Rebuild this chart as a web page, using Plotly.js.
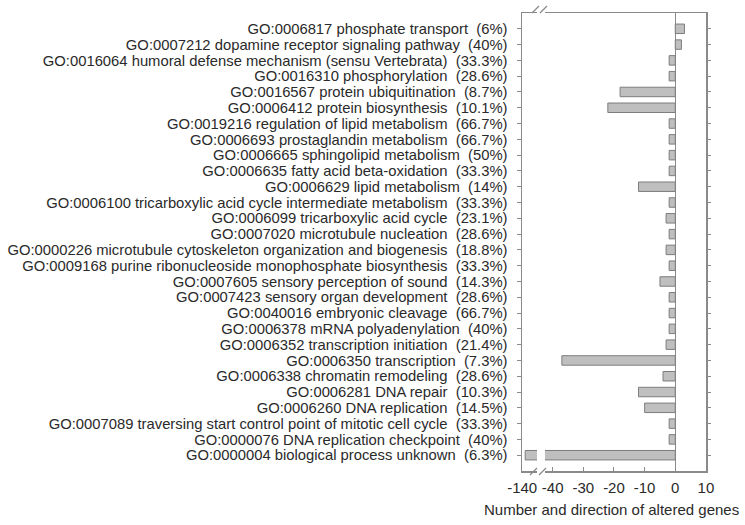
<!DOCTYPE html>
<html><head><meta charset="utf-8">
<script src="https://cdn.plot.ly/plotly-3.0.1.min.js"></script>
<style>html,body{margin:0;padding:0;background:#fff}</style>
</head><body>
<div id="chart" style="width:745px;height:525px"></div>
<script>
const labels = [
"GO:0006817 phosphate transport\u00a0 (6%)",
"GO:0007212 dopamine receptor signaling pathway\u00a0 (40%)",
"GO:0016064 humoral defense mechanism (sensu Vertebrata)\u00a0 (33.3%)",
"GO:0016310 phosphorylation\u00a0 (28.6%)",
"GO:0016567 protein ubiquitination\u00a0 (8.7%)",
"GO:0006412 protein biosynthesis\u00a0 (10.1%)",
"GO:0019216 regulation of lipid metabolism\u00a0 (66.7%)",
"GO:0006693 prostaglandin metabolism\u00a0 (66.7%)",
"GO:0006665 sphingolipid metabolism\u00a0 (50%)",
"GO:0006635 fatty acid beta-oxidation\u00a0 (33.3%)",
"GO:0006629 lipid metabolism\u00a0 (14%)",
"GO:0006100 tricarboxylic acid cycle intermediate metabolism\u00a0 (33.3%)",
"GO:0006099 tricarboxylic acid cycle\u00a0 (23.1%)",
"GO:0007020 microtubule nucleation\u00a0 (28.6%)",
"GO:0000226 microtubule cytoskeleton organization and biogenesis\u00a0 (18.8%)",
"GO:0009168 purine ribonucleoside monophosphate biosynthesis\u00a0 (33.3%)",
"GO:0007605 sensory perception of sound\u00a0 (14.3%)",
"GO:0007423 sensory organ development\u00a0 (28.6%)",
"GO:0040016 embryonic cleavage\u00a0 (66.7%)",
"GO:0006378 mRNA polyadenylation\u00a0 (40%)",
"GO:0006352 transcription initiation\u00a0 (21.4%)",
"GO:0006350 transcription\u00a0 (7.3%)",
"GO:0006338 chromatin remodeling\u00a0 (28.6%)",
"GO:0006281 DNA repair\u00a0 (10.3%)",
"GO:0006260 DNA replication\u00a0 (14.5%)",
"GO:0007089 traversing start control point of mitotic cell cycle\u00a0 (33.3%)",
"GO:0000076 DNA replication checkpoint\u00a0 (40%)",
"GO:0000004 biological process unknown\u00a0 (6.3%)"
];
const values = [3, 2, -2, -2, -18, -22, -2, -2, -2, -2, -12, -2, -3, -2, -3, -2, -5, -2, -2, -2, -3, -37, -4, -12, -10, -2, -2, -139];
const mainTickVals = [-40, -30, -20, -10, 0, 10];
const mainTickText = ["-40", "-30", "-20", "-10", "0", "10"];
const breakTickVals = [-140];
const breakTickText = ["-140"];
const xTitle = "Number and direction of altered genes";

const L = 522, R = 706, T = 13, B = 471, W = 745, H = 525;
const pw = R - L, ph = B - T;
const px = v => (v - L) / pw;
const py = v => (B - v) / ph;

const lineCol = '#8a8a8a';
const txtCol = '#2a2a2a';
const fam = '"Liberation Sans", Arial, sans-serif';
const font = {family: fam, size: 15, color: txtCol};
const yFont = {family: fam, size: 14.8, color: txtCol};
const titleFont = {family: fam, size: 15, color: txtCol};
const barStyle = {color: '#bfbfbf', line: {color: '#7d7d7d', width: 1}};

const traces = [
  {type: 'bar', orientation: 'h', x: values, y: labels, xaxis: 'x', yaxis: 'y', marker: barStyle, hoverinfo: 'skip'},
  {type: 'bar', orientation: 'h', x: values, y: labels, xaxis: 'x2', yaxis: 'y2', marker: barStyle, hoverinfo: 'skip'}
];

function slash(x0, y0, x1, y1) {
  return {type: 'line', xref: 'paper', yref: 'paper', x0: px(x0), y0: py(y0), x1: px(x1), y1: py(y1),
          line: {color: lineCol, width: 1.2}};
}

const layout = {
  width: W, height: H,
  margin: {l: L, r: W - R, t: T, b: H - B, pad: 0},
  paper_bgcolor: '#fff', plot_bgcolor: '#fff',
  showlegend: false, bargap: 0.4,
  font: font,
  xaxis: {domain: [0, px(537)], range: [-140.05, -135.1], anchor: 'y',
          tickmode: 'array', tickvals: breakTickVals, ticktext: breakTickText, ticks: 'inside', ticklen: 4,
          tickcolor: lineCol, showline: true, mirror: true, linecolor: lineCol, linewidth: 1.5,
          showgrid: false, zeroline: false, tickfont: font, ticklabelstandoff: 2},
  xaxis2: {domain: [px(545), 1], range: [-42.5, 10.02], anchor: 'y2',
           tickmode: 'array', tickvals: mainTickVals, ticktext: mainTickText, ticks: 'inside', ticklen: 4,
           tickcolor: lineCol, showline: true, mirror: true, linecolor: lineCol, linewidth: 1.5,
           showgrid: false, zeroline: true, zerolinecolor: lineCol, zerolinewidth: 1.5,
           tickfont: font, ticklabelstandoff: 2},
  yaxis: {type: 'category', domain: [0, 1], range: [labels.length, -1], anchor: 'x', side: 'left',
          tickmode: 'array', tickvals: labels, ticktext: labels,
          showline: true, linecolor: lineCol, linewidth: 1.5, ticks: 'outside', ticklen: 4,
          tickcolor: lineCol, showgrid: false, zeroline: false, tickfont: yFont, ticklabelstandoff: 6},
  yaxis2: {type: 'category', domain: [0, 1], matches: 'y', anchor: 'x2', side: 'right',
           tickmode: 'array', tickvals: labels,
           showline: true, linecolor: lineCol, linewidth: 1.5, ticks: 'outside', ticklen: 3,
           tickcolor: lineCol, showgrid: false, zeroline: false, showticklabels: false},
  shapes: [
    slash(532, 13, 539, 6), slash(540, 13, 547, 6),
    slash(530, 475, 537, 468), slash(539, 475, 546, 468)
  ],
  annotations: [
    {text: xTitle, xref: 'paper', yref: 'paper', x: px(741), y: py(509),
     xanchor: 'right', yanchor: 'middle', showarrow: false, font: titleFont}
  ]
};

Plotly.newPlot('chart', traces, layout, {staticPlot: true, displayModeBar: false});
</script>
</body></html>
